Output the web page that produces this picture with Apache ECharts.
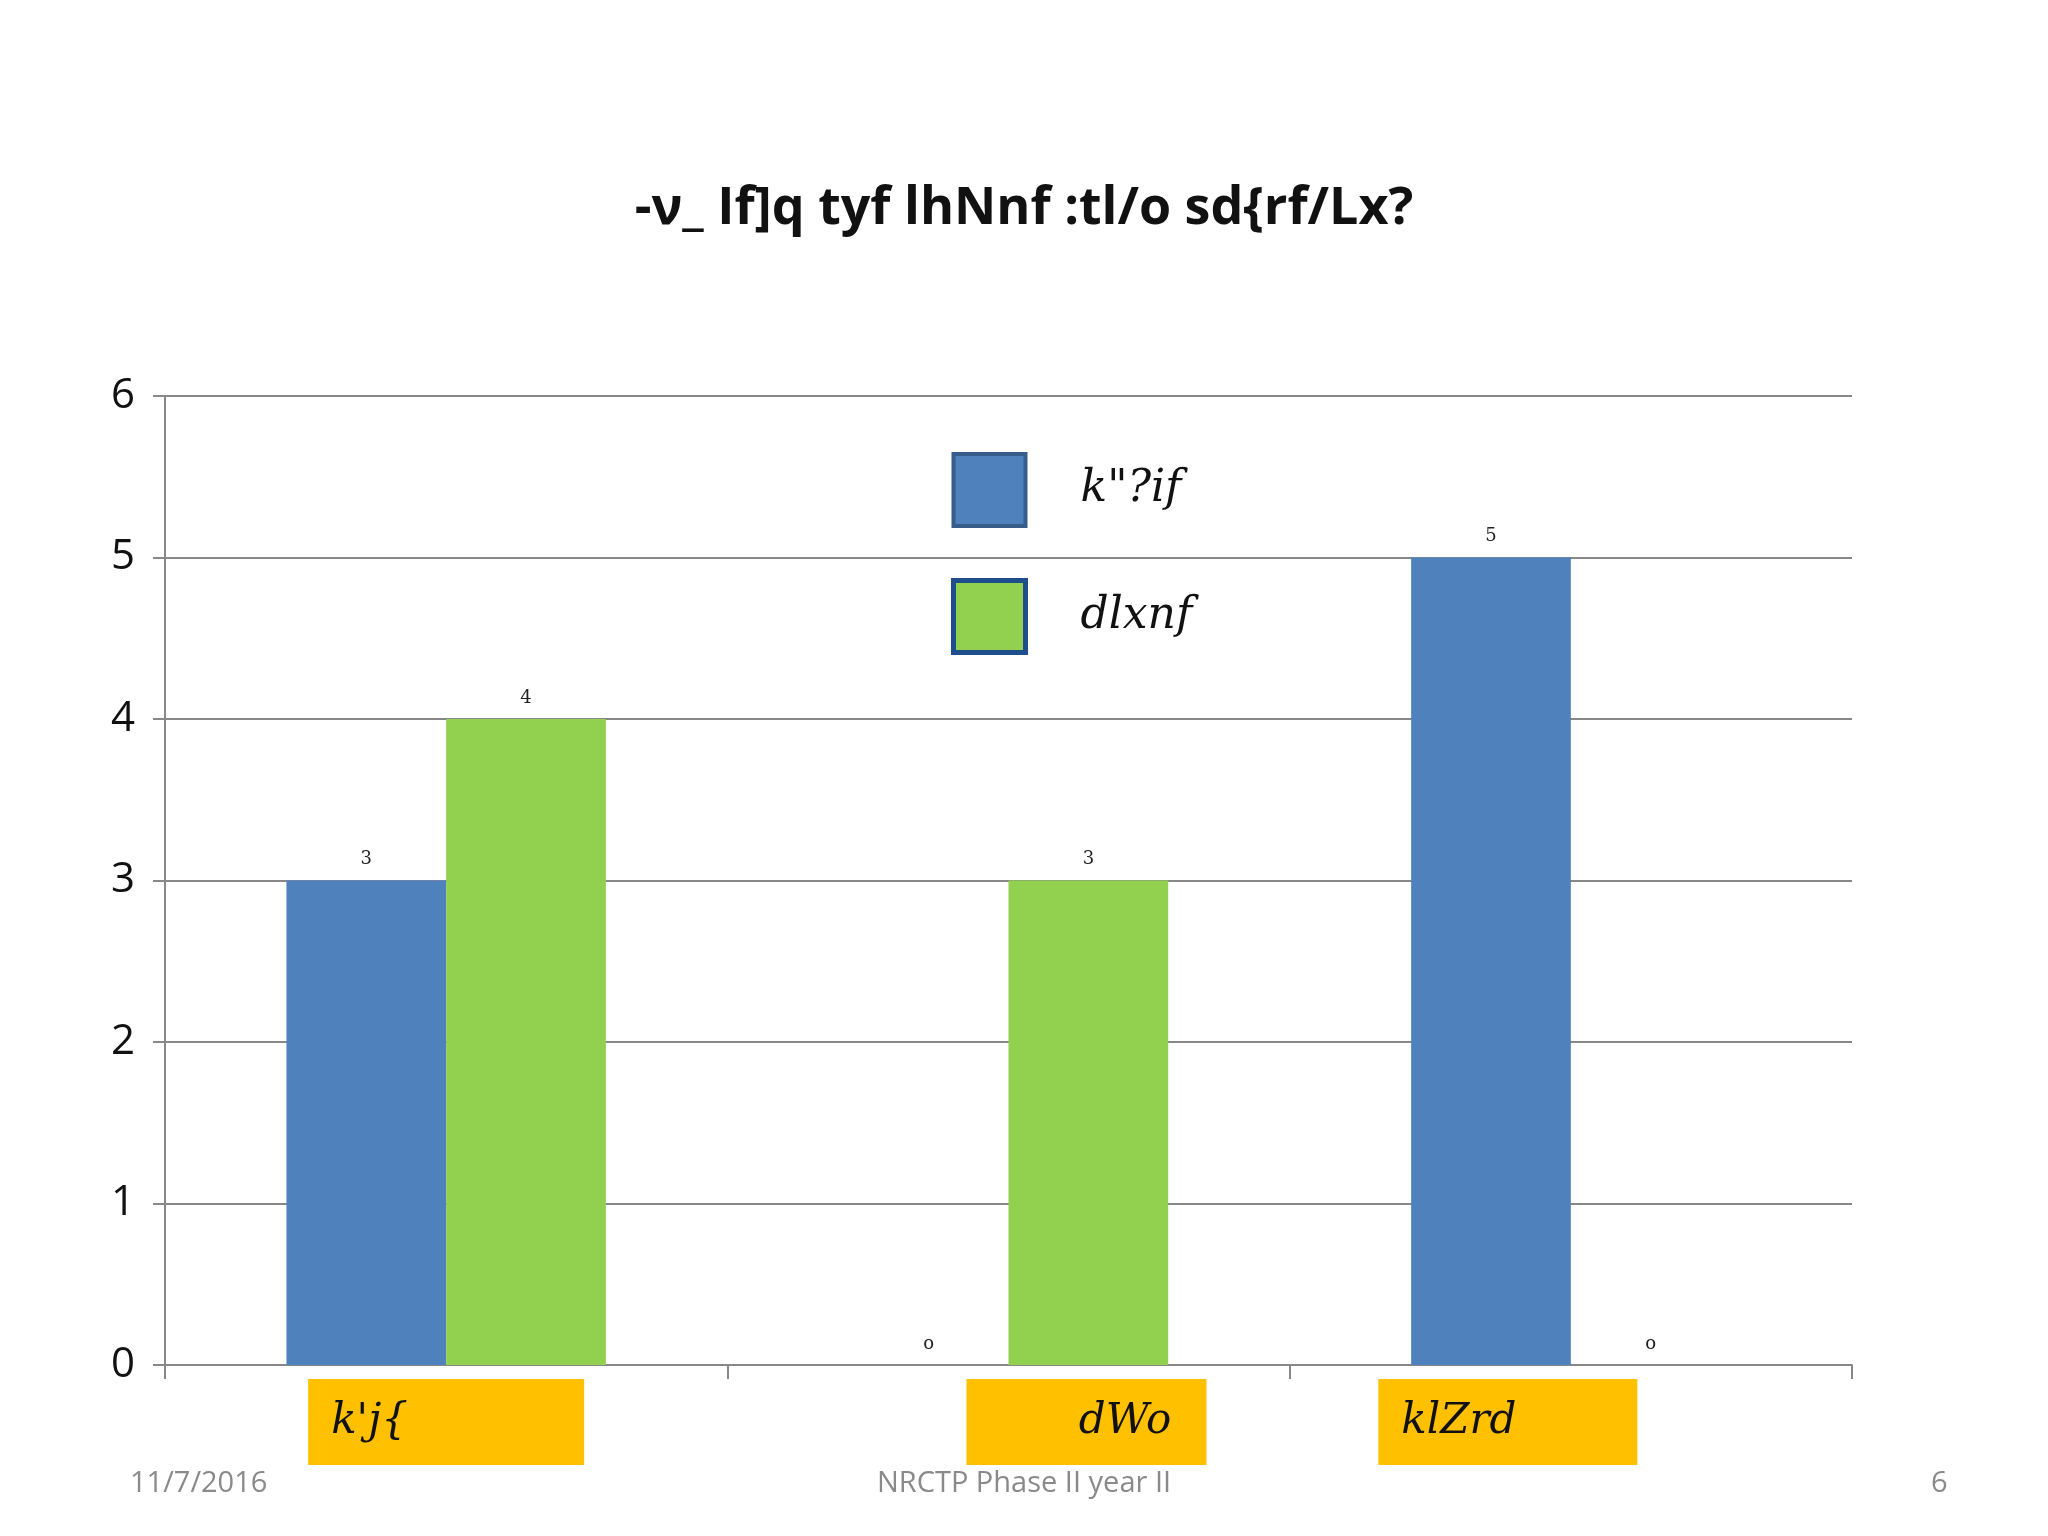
<!DOCTYPE html>
<html><head><meta charset="utf-8">
<script src="https://cdn.jsdelivr.net/npm/echarts@6/dist/echarts.min.js"></script>
<style>html,body{margin:0;padding:0;background:#fff}#c{width:2048px;height:1536px}</style>
</head><body><div id="c"></div>
<script>
const categories = ["k'j{", "dWo", "klZrd"];
const seriesNames = ["k\"?if", "dlxnf"];
const blueValues = [3, 0, 5];
const greenValues = [4, 3, 0];
const yTicks = [0, 1, 2, 3, 4, 5, 6];
const footer = ["11/7/2016", "NRCTP Phase II year II", "6"];

const chart = echarts.init(document.getElementById('c'));
const catFont = {fontFamily: 'DejaVu Serif', fontStyle: 'italic', fontSize: 42, color: '#111'};
const boxStyle = {backgroundColor: '#FFC000', height: 86, lineHeight: 86, align: 'left'};
const lbl = {show: true, position: 'top', fontFamily: 'DejaVu Serif', fontSize: 18, color: '#222', distance: 12,
  formatter: p => p.value === 0 ? 'o' : String(p.value)};
chart.setOption({
  animation: false,
  backgroundColor: '#fff',
  title: [
    {text: '-ν_ If]q tyf lhNnf :tl/o sd{rf/Lx?', left: 'center', top: 178,
     textStyle: {fontFamily: 'Open Sans', fontWeight: 'bold', fontSize: 52, color: '#111'}},
    {text: footer[0], left: 125, top: 1464, textStyle: {fontFamily: 'Open Sans', fontWeight: 'normal', fontSize: 29, color: '#8a8a8a'}},
    {text: footer[1], left: 'center', top: 1464, textStyle: {fontFamily: 'Open Sans', fontWeight: 'normal', fontSize: 29, color: '#8a8a8a'}},
    {text: footer[2], left: 1926, top: 1464, textStyle: {fontFamily: 'Open Sans', fontWeight: 'normal', fontSize: 29, color: '#8a8a8a'}}
  ],
  legend: {
    orient: 'vertical', left: 946, top: 447, itemWidth: 72, itemHeight: 72, itemGap: 50,
    textStyle: {fontFamily: 'DejaVu Serif', fontStyle: 'italic', fontSize: 44, color: '#111', padding: [0, 0, 0, 50]},
    data: [
      {name: seriesNames[0], icon: 'rect', itemStyle: {color: '#4F81BD', borderColor: '#385D8A', borderWidth: 4}},
      {name: seriesNames[1], icon: 'rect', itemStyle: {color: '#92D050', borderColor: '#1F4E8C', borderWidth: 5}}
    ]
  },
  grid: {left: 165, right: 196, top: 396, bottom: 171},
  xAxis: {
    type: 'category', data: categories,
    axisLine: {lineStyle: {color: '#888', width: 2}},
    axisTick: {show: true, length: 14, lineStyle: {color: '#888', width: 2}},
    axisLabel: {
      margin: 14,
      formatter: (v, i) => i === 0 ? '{b0|' + v + '}' : i === 1 ? '{s1|}{b1|' + v + '}' : '{b2|' + v + '}{s2|}',
      rich: {
        b0: Object.assign({}, catFont, boxStyle, {width: 253, padding: [0, 0, 0, 23]}),
        b1: Object.assign({}, catFont, boxStyle, {width: 163, padding: [0, 0, 0, 77]}),
        s1: {width: 156, height: 86},
        b2: Object.assign({}, catFont, boxStyle, {width: 236, padding: [0, 0, 0, 23]}),
        s2: {width: 126, height: 86}
      }
    }
  },
  yAxis: {
    type: 'value', min: 0, max: 6, interval: 1,
    axisLine: {show: true, lineStyle: {color: '#888', width: 2}},
    axisTick: {show: true, length: 12, lineStyle: {color: '#888', width: 2}},
    axisLabel: {fontFamily: 'Open Sans', fontSize: 42, color: '#111', margin: 30,
      formatter: v => yTicks.includes(v) ? String(v) : ''},
    splitLine: {lineStyle: {color: '#888', width: 2}}
  },
  series: [
    {name: seriesNames[0], type: 'bar', data: blueValues, barWidth: '28.4%', barGap: '0%',
     itemStyle: {color: '#4F81BD'}, label: lbl},
    {name: seriesNames[1], type: 'bar', data: greenValues, barWidth: '28.4%', barGap: '0%',
     itemStyle: {color: '#92D050'}, label: lbl}
  ]
});
</script></body></html>
